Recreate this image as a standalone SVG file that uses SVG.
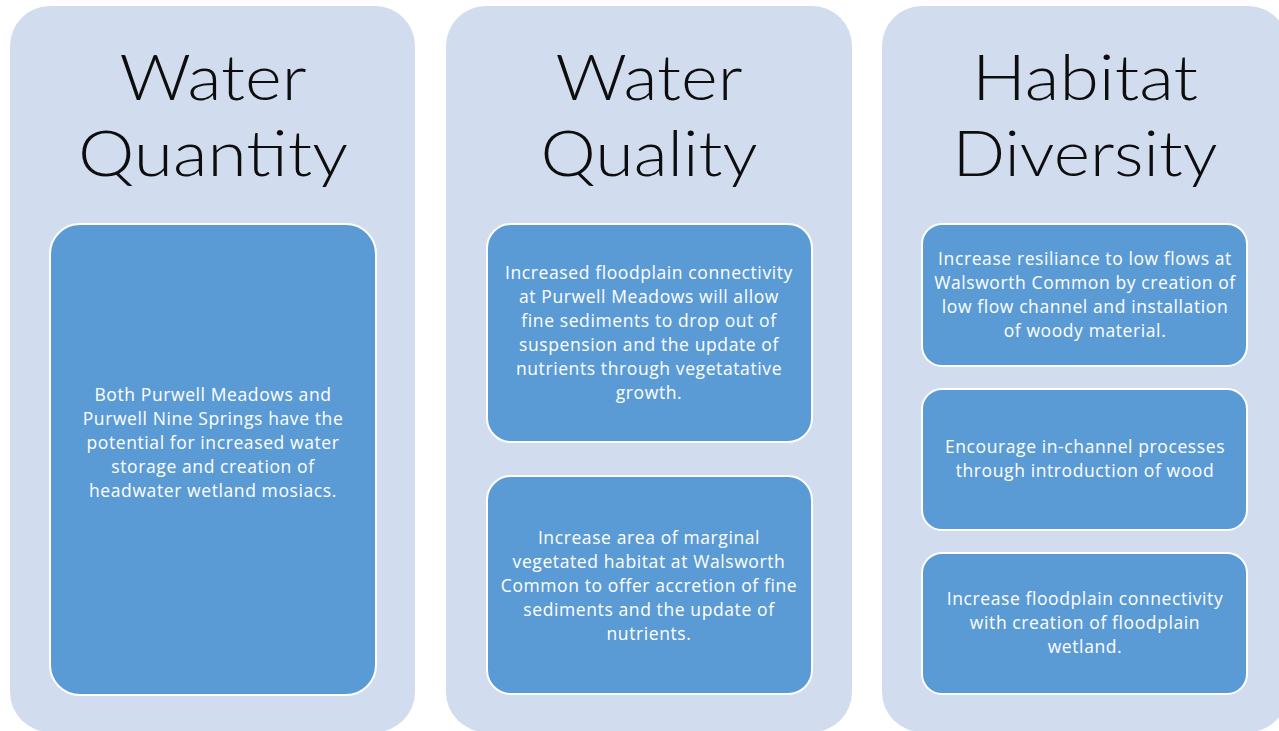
<svg xmlns="http://www.w3.org/2000/svg" width="1279" height="731" viewBox="0 0 1279 731">
  <style>
    .panel { fill: #D1DCEE; }
    .card { fill: #5B9BD5; stroke: #FFFFFF; stroke-width: 2; }
    .head { font-family: Lato, "Open Sans", sans-serif; font-weight: 300; font-size: 64px; fill: #0D0D0D; text-anchor: middle; }
    .body { font-family: "Open Sans", "Liberation Sans", sans-serif; font-size: 17.5px; letter-spacing: 0.6px; fill: #FFFFFF; text-anchor: middle; }
  </style>
  <rect width="1279" height="731" fill="#FFFFFF"/>

  <!-- Column 1: Water Quantity -->
  <g id="water-quantity">
    <rect class="panel" x="10" y="6" width="405" height="726" rx="40"/>
    <text class="head" x="213" y="100" textLength="187" lengthAdjust="spacingAndGlyphs">Water</text>
    <text class="head" x="213" y="176" textLength="270" lengthAdjust="spacingAndGlyphs">Quantity</text>
    <g id="wq-storage">
      <rect class="card" x="50" y="224" width="326" height="471" rx="30"/>
      <text class="body" x="213" y="401">Both Purwell Meadows and</text>
      <text class="body" x="213" y="425">Purwell Nine Springs have the</text>
      <text class="body" x="213" y="449">potential for increased water</text>
      <text class="body" x="213" y="473">storage and creation of</text>
      <text class="body" x="213" y="497">headwater wetland mosiacs.</text>
    </g>
  </g>

  <!-- Column 2: Water Quality -->
  <g id="water-quality">
    <rect class="panel" x="446" y="6" width="406" height="726" rx="40"/>
    <text class="head" x="649" y="100" textLength="187" lengthAdjust="spacingAndGlyphs">Water</text>
    <text class="head" x="649" y="176" textLength="217" lengthAdjust="spacingAndGlyphs">Quality</text>
    <g id="wql-floodplain">
      <rect class="card" x="487" y="224" width="325" height="218" rx="24"/>
      <text class="body" x="649" y="279">Increased floodplain connectivity</text>
      <text class="body" x="649" y="303">at Purwell Meadows will allow</text>
      <text class="body" x="649" y="327">fine sediments to drop out of</text>
      <text class="body" x="649" y="351">suspension and the update of</text>
      <text class="body" x="649" y="375">nutrients through vegetatative</text>
      <text class="body" x="649" y="399">growth.</text>
    </g>
    <g id="wql-marginal">
      <rect class="card" x="487" y="476" width="325" height="218" rx="24"/>
      <text class="body" x="649" y="544">Increase area of marginal</text>
      <text class="body" x="649" y="568">vegetated habitat at Walsworth</text>
      <text class="body" x="649" y="592">Common to offer accretion of fine</text>
      <text class="body" x="649" y="616">sediments and the update of</text>
      <text class="body" x="649" y="640">nutrients.</text>
    </g>
  </g>

  <!-- Column 3: Habitat Diversity -->
  <g id="habitat-diversity">
    <rect class="panel" x="882" y="6" width="406" height="726" rx="40"/>
    <text class="head" x="1085" y="100" textLength="226" lengthAdjust="spacingAndGlyphs">Habitat</text>
    <text class="head" x="1085" y="176" textLength="265" lengthAdjust="spacingAndGlyphs">Diversity</text>
    <g id="hd-lowflow">
      <rect class="card" x="922" y="224" width="325" height="142" rx="20"/>
      <text class="body" x="1085" y="265">Increase resiliance to low flows at</text>
      <text class="body" x="1085" y="289">Walsworth Common by creation of</text>
      <text class="body" x="1085" y="313">low flow channel and installation</text>
      <text class="body" x="1085" y="337">of woody material.</text>
    </g>
    <g id="hd-wood">
      <rect class="card" x="922" y="389" width="325" height="141" rx="20"/>
      <text class="body" x="1085" y="453">Encourage in-channel processes</text>
      <text class="body" x="1085" y="477">through introduction of wood</text>
    </g>
    <g id="hd-wetland">
      <rect class="card" x="922" y="553" width="325" height="141" rx="20"/>
      <text class="body" x="1085" y="605">Increase floodplain connectivity</text>
      <text class="body" x="1085" y="629">with creation of floodplain</text>
      <text class="body" x="1085" y="653">wetland.</text>
    </g>
  </g>
</svg>
